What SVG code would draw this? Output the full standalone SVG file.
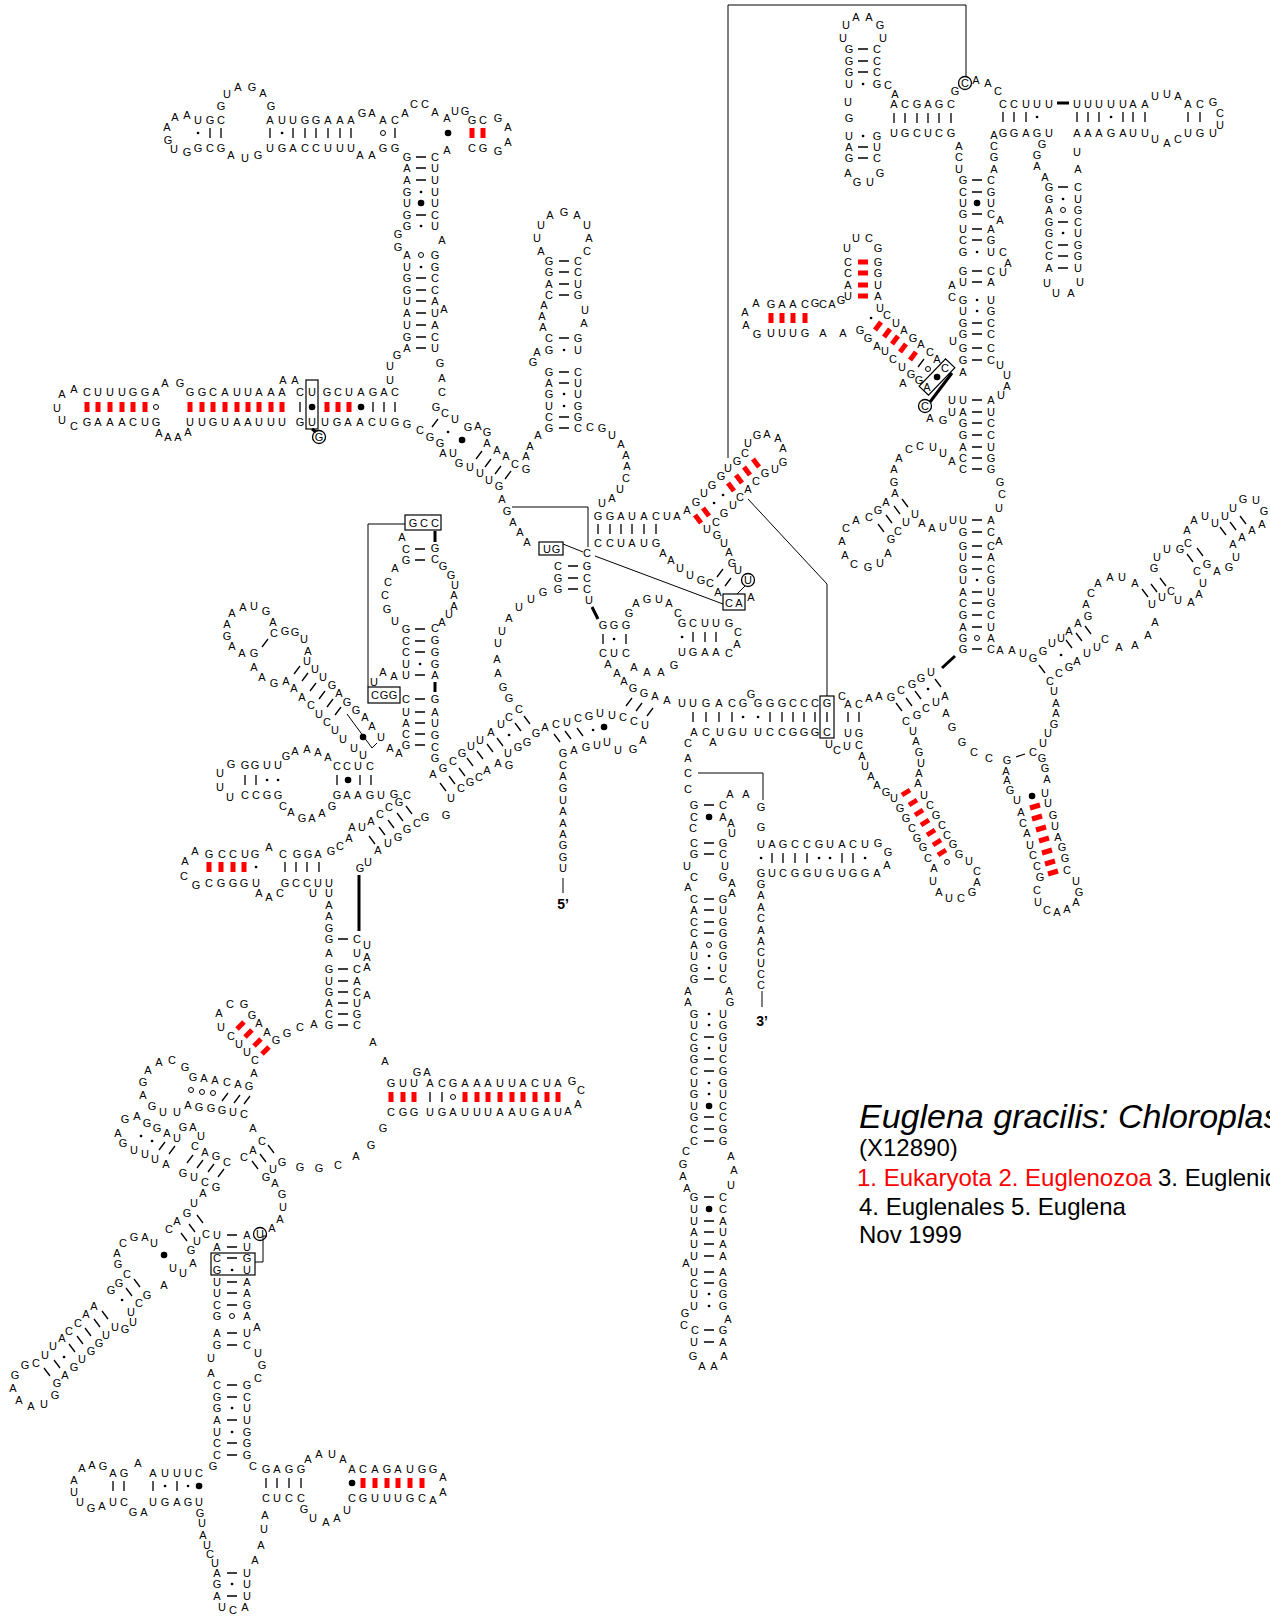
<svg xmlns="http://www.w3.org/2000/svg" width="1270" height="1616" viewBox="0 0 1270 1616">
<style>
text{font-family:"Liberation Sans",Arial,sans-serif;font-size:11px;text-anchor:middle;dominant-baseline:central;fill:#000}
.b{stroke:#000;stroke-width:1.3;fill:none}
.k{stroke:#000;stroke-width:3;fill:none}
.c{stroke:#000;stroke-width:1;fill:none}
.rd{stroke:#f00;stroke-width:5;fill:none}
.sd{stroke:#000;stroke-width:2.6;stroke-linecap:round;fill:none}
.bd{stroke:#000;stroke-width:6.5;stroke-linecap:round;fill:none}
.o{fill:none;stroke:#000;stroke-width:1}
.bx{fill:none;stroke:#000;stroke-width:1.2}
.ci{fill:none;stroke:#000;stroke-width:1.3}
.ti{font-size:34px;font-style:italic;text-anchor:start;dominant-baseline:auto}
.inf{font-size:24px;text-anchor:start;dominant-baseline:auto}
.end{font-size:14px;font-weight:bold}
</style>
<rect width="1270" height="1616" fill="#fff"/>

<g id="connectors">
<path class="c" d="M728 458V5H966V77"/>
<path class="c" d="M512 507H588V547"/>
<path class="c" d="M563 544L583 552"/>
<path class="c" d="M595 556L723 604"/>
<path class="c" d="M748 499L827 584V696"/>
<path class="c" d="M745 586L737 594"/>
<path class="c" d="M405 524H368V687"/>
<path class="c" d="M347 714L372 748L377 743"/>
<path class="c" d="M698 773H763V800"/>
<path class="c" d="M267 1236H263V1262H255"/>
<path class="c" d="M563 878V893"/>
<path class="c" d="M762 991V1007"/>
<path class="k" d="M312 429L316 432M435 531V542M435 682V692M592 607L598 619M942 668L955 656M359 875V931M1057 103H1069M952 373L930 402"/>
</g>

<g id="boxes">
<rect class="bx" x="306" y="380" width="12" height="49"/>
<rect class="bx" x="539" y="542" width="24" height="13"/>
<rect class="bx" x="723" y="594" width="22" height="16"/>
<rect class="bx" x="820" y="696" width="14" height="42"/>
<rect class="bx" x="405" y="515" width="36" height="15"/>
<rect class="bx" x="368" y="687" width="32" height="16"/>
<rect class="bx" x="211" y="1253" width="44" height="22"/>
<rect class="bx" x="-19" y="-6.5" width="38" height="13" transform="translate(937 377) rotate(-46)"/>
<circle class="ci" cx="319" cy="437" r="6.5"/>
<circle class="ci" cx="965" cy="83" r="6.5"/>
<circle class="ci" cx="925" cy="406" r="6.5"/>
<circle class="ci" cx="748" cy="580" r="6.5"/>
<circle class="ci" cx="260" cy="1234" r="6.5"/>
</g>

<g id="pairs">
<path class="b" d="M210 128v10M221 128v10M270 128v10M293 128v10M305 128v10M316 128v10M328 128v10M340 128v10M351 128v10M395 128v10
M416 157h10M416 168h10M416 180h10M416 215h10M416 278h10M416 290h10M416 301h10M416 313h10M416 325h10M416 337h10M416 348h10
M300 402v10M373 402v10M384 402v10M395 402v10
M559 261h10M559 272h10M559 284h10M559 295h10M559 338h10M559 372h10M559 383h10M559 417h10M559 428h10
M598 524v10M610 524v10M621 524v10M632 524v10M644 524v10M656 524v10
M568 566h10M568 578h10M568 589h10
M603 634v10M626 634v10M693 632v10M705 632v10M716 632v10
M693 712v10M706 712v10M719 712v10M732 712v10M770 712v10M782 712v10M793 712v10M804 712v10M815 712v10M827 712v10M848 712v10M859 712v10
M972 180h10M972 192h10M972 214h10M972 229h10M972 240h10M972 271h10M972 282h10M972 323h10M972 334h10M972 348h10M972 360h10M972 400h10M972 412h10M972 423h10M972 435h10M972 447h10M972 458h10M972 469h10M972 520h10M972 532h10M972 546h10M972 557h10M972 569h10M972 592h10M972 603h10M972 615h10M972 627h10M972 649h10
M858 49h10M858 61h10M858 72h10M858 147h10M858 158h10
M894 113v10M905 113v10M917 113v10M928 113v10M939 113v10M951 113v10
M1003 112v10M1014 112v10M1026 112v10
M1077 112v10M1088 112v10M1099 112v10M1123 112v10M1133 112v10M1145 112v10M1188 112v10M1200 112v10
M1058 187h10M1058 222h10M1058 245h10M1058 256h10M1058 268h10
M415 549h10M415 560h10M415 629h10M415 641h10M415 652h10M415 675h10M415 699h10M415 712h10M415 723h10M415 734h10M415 745h10
M245 775v10M256 775v10M337 775v10M360 775v10M371 775v10
M285 862v10M296 862v10M307 862v10M319 862v10
M338 939h10M338 969h10M338 981h10M338 992h10M338 1003h10M338 1014h10M338 1025h10
M430 1092v10M442 1092v10
M227 1235h10M227 1247h10M227 1258h10M227 1282h10M227 1293h10M227 1305h10M227 1333h10M227 1345h10M227 1385h10M227 1397h10M227 1420h10M227 1443h10M227 1455h10M227 1573h10M227 1596h10
M113 1481v10M124 1481v10M153 1481v10M177 1481v10M266 1478v10M277 1478v10M289 1478v10M301 1478v10
M704 805h10M704 843h10M704 854h10M704 899h10M704 910h10M704 922h10M704 933h10M704 979h10M704 1037h10M704 1059h10M704 1071h10M704 1117h10M704 1129h10M704 1141h10M704 1197h10M704 1221h10M704 1232h10M704 1244h10M704 1256h10M704 1272h10M704 1283h10M704 1330h10M704 1342h10
M772 853v10M783 853v10M795 853v10M807 853v10M842 853v10M853 853v10
M1016 757L1025 754"/>
<path class="b" d="M432 427l6 -8M476 459l6 -8M485 467l6 -8M495 474l6 -8M505 479l6 -8M626 706l6 -8M636 711l6 -8M647 716l6 -8M717 577l6 -8M725 586l6 -8M262 647l6 -8M294 674l6 -8M302 681l6 -8M310 691l6 -8M319 699l6 -8M327 707l6 -8M335 715l6 -8M222 1101l6 -8M234 1103l6 -8M244 1104l6 -8M159 1150l6 -8M169 1154l6 -8M187 1163l6 -8M197 1168l6 -8M208 1172l6 -8M218 1177l6 -8M918 367l6 -8"/>
<path class="b" d="M554 734l6 8M565 731l6 8M577 728l6 8M524 716l6 8M515 723l6 8M497 738l6 8M487 744l6 8M477 751l6 8M467 758l6 8M459 768l6 8M449 776l6 8M440 783l6 8M406 806l6 8M397 813l6 8M388 820l6 8M379 827l6 8M369 836l6 8M268 1145l6 8M260 1154l6 8M252 1161l6 8M181 1233l6 8M189 1224l6 8M197 1215l6 8M44 1368l6 8M54 1360l6 8M69 1344l6 8M77 1336l6 8M85 1328l6 8M94 1319l6 8M102 1311l6 8M126 1288l6 8M134 1279l6 8M896 703l6 8M906 698l6 8M915 691l6 8M935 679l6 8M902 499l6 8M894 506l6 8M886 515l6 8M878 524l6 8M1039 665l6 8M1066 640l6 8M1076 633l6 8M1085 626l6 8M1142 589l6 8M1151 584l6 8M1160 578l6 8M1187 554l6 8M1197 548l6 8M1220 527l6 8M1230 522l6 8M1240 516l6 8"/>
<path class="sd" d="M198 133h.1M282 133h.1M421 192h.1M421 226h.1M421 267h.1M564 350h.1M564 394h.1M564 406h.1M614 639h.1M682 637h.1M743 717h.1M758 717h.1M977 252h.1M977 300h.1M977 311h.1M977 580h.1M863 84h.1M863 136h.1M1037 117h.1M1111 117h.1M1063 199h.1M1063 233h.1M420 664h.1M267 780h.1M278 780h.1M256 867h.1M232 1270h.1M232 1408h.1M232 1432h.1M232 1584h.1M165 1486h.1M188 1486h.1M709 956h.1M709 968h.1M709 1014h.1M709 1025h.1M709 1048h.1M709 1083h.1M709 1094h.1M709 1294h.1M709 1306h.1M761 858h.1M819 858h.1M830 858h.1M865 858h.1M871 318h.1M714 503h.1M723 495h.1M509 735h.1M593 730h.1M928 689h.1M1061 655h.1M141 1136h.1M152 1141h.1M64 1357h.1M122 1300h.1M448 432h.1"/>
<path class="bd" d="M448 133h.1M421 203h.1M312 407h.1M361 407h.1M462 440h.1M604 727h.1M977 203h.1M937 377h.1M348 780h.1M363 737h.1M199 1486h.1M352 1483h.1M164 1255h.1M709 817h.1M709 1106h.1M709 1209h.1M1032 796h.1"/>
<circle class="o" cx="383" cy="133" r="2.5"/><circle class="o" cx="156" cy="407" r="2.5"/><circle class="o" cx="421" cy="255" r="2.5"/><circle class="o" cx="977" cy="638" r="2.5"/><circle class="o" cx="1063" cy="210" r="2.5"/><circle class="o" cx="453" cy="1097" r="2.5"/><circle class="o" cx="191" cy="1090" r="2.5"/><circle class="o" cx="202" cy="1092" r="2.5"/><circle class="o" cx="213" cy="1093" r="2.5"/><circle class="o" cx="232" cy="1316" r="2.5"/><circle class="o" cx="709" cy="945" r="2.5"/><circle class="o" cx="947" cy="862" r="2.5"/><circle class="o" cx="928" cy="369" r="2.5"/>
<path class="rd" d="M87 402v10M98 402v10M110 402v10M122 402v10M133 402v10M145 402v10M190 402v10M202 402v10M213 402v10M225 402v10M237 402v10M248 402v10M259 402v10M271 402v10M282 402v10M327 402v10M338 402v10M349 402v10
M472 128v10M483 128v10M771 313v10M782 313v10M793 313v10M805 313v10M209 862v10M221 862v10M233 862v10M244 862v10
M391 1092v10M403 1092v10M414 1092v10M465 1092v10M477 1092v10M488 1092v10M500 1092v10M512 1092v10M523 1092v10M535 1092v10M547 1092v10M558 1092v10
M363 1478v10M375 1478v10M387 1478v10M398 1478v10M410 1478v10M422 1478v10
M858 262h10M858 273h10M858 285h10M858 296h10
M695 515l6 8M703 508l6 8M728 483l6 8M736 475l6 8M744 467l6 8M753 459l6 8
M875 330l6 -8M884 337l6 -8M892 344l6 -8M900 352l6 -8M910 360l6 -8
M902 795l8 -5M909 805l8 -5M915 815l8 -5M921 825l8 -5M927 835l8 -5M933 845l8 -5M938 855l8 -5
M1030 808l10 -3M1032 819l10 -3M1036 830l10 -3M1039 841l10 -3M1042 853l10 -3M1045 864l10 -3M1048 874l10 -3
M237 1029l7 -7M245 1037l7 -7M254 1046l7 -7M262 1054l7 -7"/>
</g>

<g id="topleft-domain">
<text x="175 187 198 210 221" y="117 115 120 120 120">AAUGC</text>
<text x="167 168 174 187" y="127 140 149 152">AGUG</text>
<text x="198 210 221" y="148">GCG</text>
<text x="231 245 258" y="155 158 155">AUG</text>
<text x="221 227 238 252 263 271" y="106 94 87 87 93 106">GUAGAG</text>
<text x="270 282 293 305 316 328 340 351" y="120">AUUGGAAA</text>
<text x="270 282 293 305 316 328 340 351" y="148">UGACCUUU</text>
<text x="362 372 383 395 405 414 425 435 447 455 465 472 483 498 508" y="113 113 120 120 113 104 104 112 118 111 111 120 120 118 127">GAACACCAAUGGCGA</text>
<text x="508 498 483 472 447 395 383 372 360" y="142 151 148 148 150 148 148 155 155">AGGCAGGAA</text>
<text x="407 407 407 407 407 407 407" y="157 168 180 192 203 215 226">GAAGUGG</text>
<text x="435 435 435 435 435 435 435" y="157 168 180 192 203 215 226">CUUUUCU</text>
<text x="398 398 442 444" y="234 247 240 309">GGAA</text>
<text x="407 407 407 407 407 407 407 407 407" y="255 267 278 290 301 313 325 337 348">AUGGUAUGA</text>
<text x="435 435 435 435 435 435 435 435 435" y="255 267 278 290 301 313 325 337 348">GGCCAUACU</text>
<text x="397 390 390 440 442 442" y="355 366 380 363 378 392">GUUGAC</text>
</g>

<g id="left-arm">
<text x="62 74 57 62 74" y="394 389 408 420 426">AAUUC</text>
<text x="87 98 110 122 133 145 156" y="392">CUUUGGA</text>
<text x="87 98 110 122 133 145 156" y="422">GAAACUG</text>
<text x="165 180 159 168 178 188" y="383 383 433 437 437 432">AGAAAA</text>
<text x="190 202 213 225 237 248 259 271 282" y="392">GGCAUUAAA</text>
<text x="190 202 213 225 237 248 259 271 282" y="422">UUGUAAUUU</text>
<text x="283 295" y="380">AA</text>
<text x="300 312 327 338 349 361 373 384 395" y="392">CUGCUAGAC</text>
<text x="300 312 325 337 348 360 372 383 395 407 420" y="422 422 422 422 422 422 422 422 422 424 430">GUUGAACUGGC</text>
<text x="319" y="437">G</text>
</g>

<g id="junction-top">
<text x="436 445 455 468 478 487 487 497 506 515 526" y="407 413 419 427 426 432 443 450 456 464 469">GCUGAGAAACG</text>
<text x="430 440 443 453 459 470 480 489 499" y="437 443 453 453 463 467 473 480 486">GGAUGUUUG</text>
<text x="502 507 513 520 527" y="499 511 522 532 542">AGAAA</text>
</g>

<g id="hairpin-mid">
<text x="541 550 564 577 587 537 589 541 587" y="225 215 212 215 225 238 238 251 251">UAGAUUAAC</text>
<text x="549 549 549 549 549 549 549 549 549 549 549 549" y="261 272 284 295 338 350 372 383 394 406 417 428">GGACCGGAGUCG</text>
<text x="578 578 578 578 578 578 578 578 578 578 578 578" y="261 272 284 295 338 350 372 383 394 406 417 428">CCUGGUCUUGGC</text>
<text x="544 542 543 585 584 537 533" y="305 316 327 310 323 352 362">AAAUAAG</text>
<text x="590 602 612 621 626 627 626 620 612 602" y="427 428 435 444 455 466 478 489 498 503">CGUAAACUAU</text>
<text x="538 530 526" y="435 446 456">AAA</text>
</g>

<g id="helix-ggauacua">
<text x="598 610 621 632 644 656 667 677" y="516">GGAUACUA</text>
<text x="598 610 621 632 644 656" y="543">CCUAUG</text>
<text x="663 671 680 690 701 710 718" y="553 560 568 575 580 583 592">AAUUGCA</text>
<text x="687 696 704 712 721 728 737 745 748 757 767 778 783 783 775 765 756 748 740 733 724 716 707" y="510 502 493 485 476 468 461 453 443 435 434 438 448 462 469 473 481 489 497 505 513 522 529">AGUGGUGCUGAAAGUGCACUGCU</text>
<text x="717 724 729 732 738 751" y="535 543 552 563 570 597">GUAGUA</text>
<text x="748" y="580">U</text>
<text x="729 739" y="603">CA</text>
</g>

<g id="central-junction">
<text x="547 556" y="549">UG</text>
<text x="587" y="553">C</text>
<text x="558 558 558" y="566 578 589">CGG</text>
<text x="587 587 587 589" y="566 578 589 600">GCCU</text>
<text x="543 531 519 509 502 498 497 498 503 509 519" y="592 599 607 618 631 643 659 673 687 698 709">GUUAUUAAGGC</text>
<text x="603 614 626" y="625">GGG</text>
<text x="603 614 626" y="653">CUC</text>
<text x="608 617 624" y="664 673 681">AAA</text>
<text x="629 636 647 659 669 678" y="613 603 599 599 603 613">GAGUAC</text>
<text x="682 693 705 716 729 738 737 729" y="623 623 623 623 623 632 644 653">GCUUGCAC</text>
<text x="682 693 705 716" y="652">UGAA</text>
<text x="634 647 661 674" y="667 672 672 665">AAAG</text>
<text x="633 644 655 667" y="688 693 696 700">GGAA</text>
<text x="682 693 706 719 732 743 751 758 770 782 793 804 815 827" y="703 703 703 703 703 703 694 703 703 703 703 703 703 703">UUGACGGGGGCCCG</text>
<text x="694 706 713 720 732 743 758 770 782 793 804 815 827" y="732 732 742 732 732 732 732 732 732 732 732 732 732">ACAUGUUCCGGGC</text>
<text x="509 501 491 480 471 462 453 443 433 435" y="717 724 732 740 746 753 761 768 774 758">CUAUUGCGAG</text>
<text x="451 461 470 479 487 498 509" y="798 788 782 777 770 763 765">UCGCAAG</text>
<text x="508 518 527 536 545 556 567 578 589 600 612 623 634 645" y="753 747 742 733 727 724 722 718 716 713 715 717 721 725">UGGGACUCGUUCCU</text>
<text x="563 574 586 597 607 618 633 643" y="753 750 747 745 742 750 749 740">GAGUUUGA</text>
<text x="563 563 563 563 563 563 563 563 563 563" y="765 776 788 800 811 823 834 845 857 868">CAGUAAAGGU</text>
<text class="end" x="563" y="904">5’</text>
</g>

<g id="right-junction">
<text x="842 848 859 869 879 891 901 912 921 931" y="696 704 704 698 696 697 690 684 678 672">CACAAGCGGU</text>
<text x="829 837 847 848 859" y="744 750 746 733 733">UCUUG</text>
<text x="859 862 865 871 877 886 894 900 906 912 917 923 928 934 933 939 949 961 972 977 977 969 959 953 947 942 936 930 924 918 919 921 919 916 913 906" y="745 756 766 776 785 792 798 808 818 828 838 847 858 868 881 892 898 898 892 882 871 861 854 844 835 825 815 805 795 783 773 763 752 741 731 721">CAUAAGUGGCGGCAUAUCGACUGGCCGCUAAUGAUC</text>
<text x="917 926 936 945 946" y="715 708 702 696 713">GCUAA</text>
<text x="952 962 974 989 1007 1033" y="727 742 752 758 760 752">GGCCGC</text>
<text x="1006 1007 1010 1017 1021 1023 1027 1030 1033 1037 1040 1037 1038 1047 1057 1067 1076 1079 1076 1067 1065 1062 1058 1055 1053 1048 1045 1047 1045 1042" y="771 780 790 800 812 823 833 845 855 866 877 890 902 910 912 909 902 892 881 870 858 847 837 826 815 803 793 779 768 758">AAGUACAUCCGCUCAAAGUCGGAUGUUAGG</text>
<text x="1043 1048 1054 1056 1056 1054 1050 1059 1069 1077 1087 1097 1105 1119 1135 1148 1155" y="743 733 724 713 703 691 681 673 667 661 653 647 639 647 645 635 622">UUGAAUCCGAUUCAAAA</text>
<text x="1000 1012 1023 1033 1043 1052 1061 1069 1078 1088 1086 1091 1098 1110 1122 1135 1154 1157 1167 1180 1188 1187 1194 1205 1215 1225 1233 1243 1256 1264 1262 1252 1242 1233 1236 1229 1217 1207 1197 1203 1199 1191 1178 1171 1162 1152" y="650 650 653 658 651 643 638 631 623 616 604 593 583 577 577 583 568 557 549 549 543 530 520 516 523 516 508 499 500 511 524 530 537 544 557 567 571 564 571 583 594 602 600 591 597 604">AAUGGUUAAGACAAUAGUUGCAAUUUUGUGAAAAUGAGCUAAUCUU</text>
</g>

<g id="main-stem">
<text x="963 963 963 963 963 963 963 963 963 963 963 963 963 963 963 963 963 963 963 963 963 963 963 963 963 963 963 963 963 963 963 963 963 963 963" y="180 192 203 214 229 240 252 271 282 300 311 323 334 348 360 372 400 412 423 435 447 458 469 520 532 546 557 569 580 592 603 615 627 638 649">GCUGUCGGUGUGGGGAUAGGACCUGGUGUACGAGG</text>
<text x="991 991 991 991 991 991 991 991 991 991 991 991 991 991 991 991 991 991 991 991 991 991 991 991 991 991 991 991 991 991 991 991 991 991" y="180 192 203 214 229 240 252 271 282 300 311 323 334 348 360 400 412 423 435 447 458 469 520 532 546 557 569 580 592 603 615 627 638 649">CGUCAGUCAUGCCCCAUCCUGGACCACGUGCUAC</text>
<text x="959 959 959 994 994 994 994" y="146 157 169 135 146 157 169">ACUACGA</text>
<text x="1000 1003 1008 1003 952 952 953 1000 1007 1007 1001 952 952 999 1000 1002 999" y="220 252 263 272 285 297 341 365 375 386 395 400 412 541 482 494 508">ACAUACUUUAUUUAGCU</text>
<text x="952 943 933 920 909 899 894 894 895 886 878 869 856 846 842 845 854 868 880 888 891 898 906 915 922 932 943 953" y="461 453 447 446 449 458 469 482 493 502 510 517 520 528 541 555 564 567 563 553 539 531 522 514 523 528 527 520">AUUCCAAGAAGCACAACGUAGCUUAAUU</text>
</g>

<g id="top-right">
<text x="846 856 869 880 843 883" y="25 17 17 25 38 38">UAAGUU</text>
<text x="849 849 849 849 848 849 849 849 849 848 857 870 880" y="49 61 72 84 102 118 136 147 158 173 182 182 173">GGGUUGUAGAGUG</text>
<text x="877 877 877 877 888 895 877 877 877" y="49 61 72 84 85 94 136 147 158">CCCGCAGUC</text>
<text x="894 905 917 928 939 951" y="104">ACGAGC</text>
<text x="894 905 917 928 939 951" y="133">UGCUCG</text>
<text x="955 965 976 988 998" y="91 83 80 83 91">GCAAC</text>
<text x="1003 1014 1026 1037 1049" y="104">CCUUU</text>
<text x="1077 1088 1099 1111 1123 1133 1145 1155 1167 1178 1188 1200 1213 1220 1220 1213 1200 1188 1178 1167 1155" y="104 104 104 104 104 104 104 96 94 96 104 104 102 113 125 133 133 133 139 143 139">UUUUUAAUUAACGCUUGUCAU</text>
<text x="1077 1088 1099 1111 1123 1133 1145" y="133">AAAGAUU</text>
<text x="1003 1014 1026 1037 1049" y="133">GGAGU</text>
<text x="1042 1037 1037 1045 1077 1078" y="144 155 166 177 152 169">GGAAUA</text>
<text x="1049 1049 1049 1049 1049 1049 1049 1049" y="187 199 210 222 233 245 256 268">GGAGGCCA</text>
<text x="1078 1078 1078 1078 1078 1078 1078 1078" y="187 199 210 222 233 245 256 268">CUGCUGGU</text>
<text x="1047 1056 1071 1080" y="283 293 293 282">UUAU</text>
</g>

<g id="uucg-arm">
<text x="847 856 869 878" y="248 238 238 248">UUCG</text>
<text x="848 848 848 848" y="262 273 285 296">CCAU</text>
<text x="878 878 878 878" y="262 273 285 296">GGUA</text>
<text x="745 756 771 782 793 805 815 823 832 841" y="312 303 304 304 304 304 303 304 304 300">AAGAACGCAG</text>
<text x="746 757 771 782 793 805 823 843" y="325 334 333 333 333 333 333 333">AGUUUGAA</text>
<text x="880 887 896 904 913 921 930 937" y="308 315 323 330 338 344 352 359">UCUAGACA</text>
<text x="860 868 877 885 893 902 911 919" y="330 338 346 351 359 367 374 380">GGAUCUGG</text>
<text x="945 927 903 925 930 943" y="368 387 383 406 418 420">CAACAG</text>
</g>

<g id="left-middle">
<text x="413 424 435" y="523">GCC</text>
<text x="375 384 393" y="695">CGG</text>
<text x="374 383 394" y="682 672 676">UAA</text>
<text x="406 406 406 406 406 406 406 406 406 406 406 406" y="549 560 629 641 652 664 675 699 712 723 734 745">CGGCCUUCUACG</text>
<text x="402 395 388 385 387 395" y="537 568 582 595 609 621">AACCGU</text>
<text x="435 435 435 435 435 435 435 435 435 435 435 435" y="548 559 628 640 652 664 675 699 712 723 735 747">GCCGGGAGAUGC</text>
<text x="443 451 455 454 454 449 442" y="566 575 585 595 606 614 622">GGUAAUA</text>
<text x="390 399" y="748 753">AA</text>
<text x="232 243 254 266 273 274 285 295 304 308 307 315 323 332 339 347 356 365 372 381" y="613 607 606 611 622 633 631 632 639 651 661 669 677 685 693 702 710 717 726 737">AAUGACGGUAUUUGAGGAAU</text>
<text x="227 227 232 242 254 254 262 274 286 294 302 311 319 327 335 343 354 363" y="624 636 646 653 653 667 677 683 681 688 697 705 714 722 730 739 748 755">AGAAGAAGAAACUCUUUU</text>
<text x="337 347 358 370 328 318 307 295 286 278 267 255 245 231 220 220 230" y="766 766 766 766 757 752 749 751 756 765 765 765 765 764 773 787 797">CCUCAAAAGUUGGGUUU</text>
<text x="245 256 267 278 283 291 302 312 322 332 337 347 358 370 381 394 407" y="795 795 795 795 806 812 818 818 813 806 795 795 795 795 795 794 795">CCGGCAGAAGGAAGUGC</text>
<text x="195 209 222 233 245 255 269 283 297 308 318 331 340 349 352 362 371 380 389 399" y="851 854 854 854 854 854 847 854 854 854 854 851 846 838 827 827 821 814 807 802">AGCCUGACGGAGCAAUACCG</text>
<text x="425 417 407 398 388 378 446 368 360" y="817 823 829 837 843 850 815 862 868">GCGGUAGUG</text>
<text x="185 184 196 209 221 233 244 256 259 269 280 285 296 307 318 329 313 329" y="861 876 885 883 883 883 883 883 893 897 893 883 883 883 883 883 893 893">ACGCGGGUAACGCCUUUU</text>
</g>

<g id="lower-left">
<text x="329 329 329 329 329 329 329 329 329 329 329" y="905 916 928 939 953 969 981 992 1003 1014 1025">AAGGAGUGACG</text>
<text x="357 367 357 367 367 357 357 357 367 357 357 357" y="939 945 953 957 967 969 981 992 995 1003 1014 1025">CUUAACACAUGC</text>
<text x="373 385" y="1042 1061">AA</text>
<text x="417 427 391 403 414" y="1072 1072 1083 1083 1083">GAGUU</text>
<text x="391 403 414" y="1112">CGG</text>
<text x="430 442 453 465 477 488 500 512 523 535 547 558 572 581 578 568" y="1083 1083 1083 1083 1083 1083 1083 1083 1083 1083 1083 1083 1081 1090 1104 1111">ACGAAAUUACUAGCAA</text>
<text x="430 442 453 465 477 488 500 512 523 535 547 558" y="1112">UGAUUUAAUGAU</text>
<text x="383 371 356 338 319 300 282" y="1128 1145 1156 1165 1168 1167 1162">GGACGGG</text>
<text x="219 230 244 252 259 267 276 287 300 314" y="1013 1004 1004 1015 1023 1032 1040 1033 1027 1024">ACGGAAGGCA</text>
<text x="221 231 239 247 255 254 249" y="1027 1036 1044 1052 1060 1073 1086">UCUUCAG</text>
<text x="148 159 172 185 193 204 215 227 238" y="1070 1062 1060 1067 1077 1078 1080 1082 1084">AACGGAACA</text>
<text x="143 143 152 163 177 188 199 211 222 233 244" y="1082 1095 1106 1112 1112 1105 1107 1108 1110 1112 1114">GAGUUAGGGUC</text>
<text x="253 262 253 244 273 266 275 282 283 280 272" y="1128 1141 1150 1157 1169 1177 1183 1194 1207 1219 1228">ACACUGAGUAA</text>
<text x="260" y="1234">U</text>
<text x="125 137 147 157 167 177 183 193 201 195 205 216 227" y="1119 1116 1123 1128 1133 1138 1127 1127 1136 1146 1152 1156 1162">GAGGAUGAUCAGC</text>
<text x="118 123 134 145 155 166" y="1133 1143 1150 1154 1159 1164">AGUUUA</text>
<text x="183 194 205 216 203 194 187 177 169" y="1173 1177 1182 1187 1193 1203 1213 1221 1229">GUCGAUGAC</text>
<text x="206 197 191" y="1234 1241 1250">CUG</text>
<text x="123 134 145 154 117 118 127 119 111" y="1243 1237 1237 1243 1253 1264 1274 1283 1290">CGAUAGCGG</text>
<text x="173 183 193 164" y="1268 1273 1263 1285">UUAA</text>
<text x="147 139 131 133 125 115 106 99 91 82 74 65 57 55 44 31 19 13 15 25 36 45 53 62 69 78 86 94" y="1295 1303 1312 1322 1329 1327 1335 1343 1351 1359 1367 1375 1383 1395 1404 1406 1400 1388 1375 1365 1363 1355 1346 1338 1331 1323 1314 1306">GCUUGUUGGUGAGGUAAAGGCUUACCAA</text>
<text x="217 217 217 217 217 217 217 217 217 217 211 211 217 217 217 217 217 217 217 213" y="1235 1247 1258 1270 1282 1293 1305 1316 1333 1345 1358 1373 1385 1397 1408 1420 1432 1443 1455 1466">UACGUUCGAGUACGGAUCCG</text>
<text x="247 247 247 247 247 247 247 247 257 247 247 258 262 258 247 247 247 247 247 247 247 253" y="1235 1247 1258 1270 1282 1293 1305 1316 1327 1333 1345 1353 1365 1378 1385 1397 1408 1420 1432 1443 1455 1466">AUGUAAGAAUCUGCGCUUGGGC</text>
</g>

<g id="bottom">
<text x="82 92 103 113 124 138 153 165 177 188 199" y="1468 1465 1466 1473 1473 1463 1473 1473 1473 1473 1473">AAGAGAAUUUC</text>
<text x="74 74 80 91 102 113 124 133 144 153 165 177 188 199" y="1480 1492 1502 1508 1506 1502 1502 1512 1512 1502 1502 1502 1502 1502">AUUGAUCGAUGAGU</text>
<text x="266 277 289 301 308 319 332 343 352 363 375 387 398 410 422 433 443 443 433" y="1469 1469 1469 1469 1459 1454 1454 1459 1469 1469 1469 1469 1469 1469 1469 1469 1477 1492 1500">GAGGAAUAACAGAUGGAAA</text>
<text x="352 363 375 387 398 410 422" y="1498">CGUUUGC</text>
<text x="266 277 289 301 304 313 326 337 347" y="1498 1498 1498 1498 1509 1518 1522 1518 1510">CUCCGUAAU</text>
<text x="200 202 203 207 210 215" y="1513 1523 1535 1545 1554 1563">GUAUCU</text>
<text x="217 217 217 222 233 245" y="1573 1584 1596 1607 1610 1607">AGAUCA</text>
<text x="247 247 247" y="1573 1584 1596">UUU</text>
<text x="265 264 261 255" y="1515 1529 1545 1560">AUAA</text>
</g>

<g id="central-bottom">
<text x="688 688 688 688" y="743 758 773 789">CACC</text>
<text x="730 746" y="794">AA</text>
<text x="694 694 693 694 694 687 694 688 694 694 694 694 694 694 694 694 688 688 694 694 694 694 694 694 694 694 694 694 694 694 686 683 683 687 694 694 694 694 694 694 686 694 694 694 694 685 684 695 694 693" y="805 817 828 843 854 866 877 887 899 910 922 933 945 956 968 979 991 1002 1014 1025 1037 1048 1059 1071 1083 1094 1106 1117 1129 1141 1151 1164 1176 1188 1197 1209 1221 1232 1244 1256 1263 1272 1283 1294 1306 1313 1325 1330 1342 1356">GCCCGUCACACCAUGGAAGUCGGCUGUGCCCGAAGUUAUUAUCUUGCCUG</text>
<text x="723 723 731 732 723 723 725 723 732 732 723 723 723 723 723 723 723 723 729 730 723 723 723 723 723 723 723 723 723 723 723 723 731 734 731 723 723 723 723 723 723 723 723 723 723 728 723 723 724 714 702" y="805 817 823 833 843 854 866 877 883 893 899 910 922 933 945 956 968 979 991 1002 1014 1025 1037 1048 1059 1071 1083 1094 1106 1117 1129 1141 1156 1170 1185 1197 1209 1221 1232 1244 1256 1272 1283 1294 1306 1319 1330 1342 1356 1366 1366">CAAUGCUGAAGUGGGGUCAGUGGUCGGUCCGGAAUCCAUAAAGGGAGAAAA</text>
<text x="761 761" y="807 827">GG</text>
<text x="761 772 783 795 807 819 830 842 853 865 878 888 887 877" y="844 844 844 844 844 844 844 844 844 844 843 852 865 873">UAGCCGUACUGGAA</text>
<text x="761 772 783 795 807 818 830 842 853 865" y="873">GUCGGUGUGG</text>
<text x="761 761 761 761 761 761 761 761 761 761" y="884 895 907 918 930 941 952 963 974 985">GAACAACUCC</text>
<text class="end" x="762" y="1021">3’</text>
</g>

<g id="title">
<text class="ti" x="859" y="1128">Euglena gracilis: Chloroplast</text>
<text class="inf" x="859" y="1156">(X12890)</text>
<text class="inf" x="857" y="1186"><tspan fill="#f00">1. Eukaryota 2. Euglenozoa</tspan><tspan x="1158">3. Euglenida</tspan></text>
<text class="inf" x="859" y="1215">4. Euglenales 5. Euglena</text>
<text class="inf" x="859" y="1243">Nov 1999</text>
</g>
</svg>
